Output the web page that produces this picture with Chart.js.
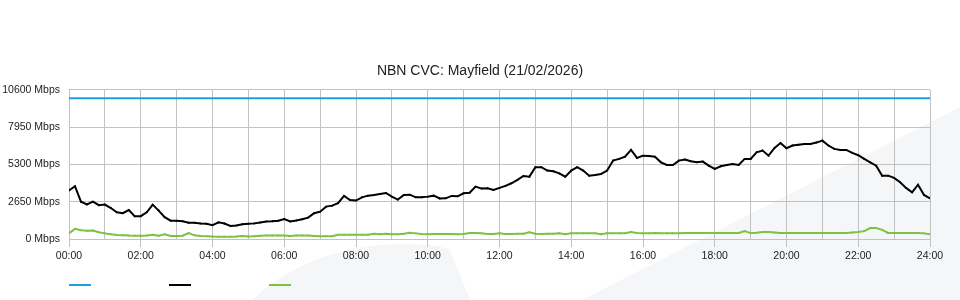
<!DOCTYPE html>
<html>
<head>
<meta charset="utf-8">
<title>NBN CVC: Mayfield</title>
<script src="https://cdn.jsdelivr.net/npm/chart.js@4.4.1/dist/chart.umd.min.js"></script>
<style>
  html, body { margin: 0; padding: 0; background: #fff; }
</style>
</head>
<body>
<canvas id="cvcGraph" width="960" height="300"></canvas>
<script>
// capacity of the CVC (flat line)
const capacityMbps = [10000, 10000];
const capacityMinutes = [0, 1440];

// 10 minute samples from 00:00 to 24:00
const downloadMbps = [
    3450, 3750, 2650, 2450, 2650, 2400, 2450, 2200, 1900, 1830, 2060, 1610,
    1620, 1900, 2440, 2020, 1550, 1300, 1300, 1260, 1150, 1150, 1100, 1080,
    980, 1180, 1100, 930, 960, 1050, 1080, 1110, 1180, 1250, 1260, 1300,
    1420, 1250, 1320, 1400, 1520, 1830, 1940, 2300, 2370, 2540, 3060, 2770,
    2730, 2960, 3080, 3130, 3200, 3270, 3010, 2800, 3130, 3150, 2960, 2960,
    3010, 3080, 2880, 2890, 3060, 3030, 3250, 3290, 3720, 3580, 3600, 3480,
    3630, 3770, 3960, 4200, 4480, 4430, 5100, 5100, 4860, 4810, 4660, 4430,
    4860, 5100, 4860, 4500, 4550, 4620, 4860, 5570, 5690, 5850, 6330, 5760,
    5920, 5900, 5850, 5450, 5260, 5260, 5570, 5650, 5520, 5450, 5500, 5210,
    4980, 5170, 5260, 5330, 5260, 5690, 5690, 6160, 6280, 5920, 6470, 6820,
    6450, 6640, 6700, 6750, 6750, 6850, 6990, 6640, 6400, 6330, 6330, 6120,
    5950, 5690, 5450, 5210, 4500, 4500, 4340, 4030, 3630, 3320, 3860, 3130,
    2890
];
const uploadMbps = [
    400, 720, 620, 580, 600, 480, 400, 330, 280, 260, 240, 230,
    230, 250, 300, 230, 330, 220, 210, 230, 420, 260, 220, 200,
    170, 160, 160, 160, 170, 210, 170, 200, 230, 240, 240, 240,
    250, 220, 240, 240, 240, 220, 190, 190, 200, 300, 310, 310,
    300, 310, 300, 380, 330, 380, 330, 330, 380, 440, 400, 350,
    340, 350, 350, 350, 350, 340, 360, 420, 420, 410, 360, 360,
    410, 350, 360, 370, 380, 480, 380, 350, 370, 380, 400, 330,
    400, 400, 400, 400, 400, 340, 400, 400, 400, 410, 500, 420,
    400, 400, 430, 400, 400, 400, 400, 420, 420, 420, 420, 420,
    420, 420, 420, 420, 430, 560, 420, 440, 490, 490, 470, 430,
    420, 420, 420, 420, 430, 420, 420, 420, 420, 420, 420, 470,
    500, 560, 780, 780, 650, 430, 430, 420, 420, 420, 430, 400,
    330
];

const sampleMinutes = downloadMbps.map((_, i) => i * 10);
const yTicks = [0, 2650, 5300, 7950, 10600];

const gridGrey = '#c2c2c2';

function hhmm(mins) {
    const h = Math.floor(mins / 60);
    return String(h).padStart(2, '0') + ':00';
}

// light grey swoosh behind the chart
const backdrop = {
    id: 'backdrop',
    beforeDraw(chart) {
        const ctx = chart.ctx;
        ctx.save();
        ctx.fillStyle = '#fff';
        ctx.fillRect(0, 0, chart.width, chart.height);
        ctx.fillStyle = '#f5f6f8';
        ctx.beginPath();
        ctx.moveTo(252, 300);
        ctx.quadraticCurveTo(310, 246, 400, 244);
        ctx.quadraticCurveTo(440, 244, 450, 250);
        ctx.lineTo(470, 300);
        ctx.closePath();
        ctx.fill();
        ctx.beginPath();
        ctx.moveTo(582, 300);
        ctx.lineTo(960, 107);
        ctx.lineTo(960, 300);
        ctx.closePath();
        ctx.fill();
        ctx.restore();
    }
};

// legend is just the coloured strokes, no text
const legendLines = {
    id: 'legendLines',
    afterDraw(chart) {
        const ctx = chart.ctx;
        const left = chart.chartArea.left;
        chart.data.datasets.forEach((ds, i) => {
            ctx.save();
            ctx.strokeStyle = ds.borderColor;
            ctx.lineWidth = 2;
            ctx.beginPath();
            ctx.moveTo(left + i * 100, 285);
            ctx.lineTo(left + i * 100 + 22, 285);
            ctx.stroke();
            ctx.restore();
        });
    }
};

Chart.defaults.font.family = '"Liberation Sans", Arial, sans-serif';
Chart.defaults.color = '#222';

const ctx = document.getElementById('cvcGraph').getContext('2d');
new Chart(ctx, {
    type: 'line',
    data: {
        datasets: [
            {
                label: 'Capacity',
                borderColor: '#1ba1e2',
                borderWidth: 2,
                pointRadius: 0,
                data: capacityMinutes.map((m, i) => ({ x: m, y: capacityMbps[i] }))
            },
            {
                label: 'Download',
                borderColor: '#000000',
                backgroundColor: '#000000',
                borderWidth: 2,
                pointRadius: 1,
                pointBorderWidth: 0,
                data: sampleMinutes.map((m, i) => ({ x: m, y: downloadMbps[i] }))
            },
            {
                label: 'Upload',
                borderColor: '#7cc243',
                backgroundColor: '#7cc243',
                borderWidth: 2,
                pointRadius: 1,
                pointBorderWidth: 0,
                data: sampleMinutes.map((m, i) => ({ x: m, y: uploadMbps[i] }))
            }
        ]
    },
    options: {
        responsive: false,
        animation: false,
        layout: { padding: { left: 0, right: 0, top: 0, bottom: 37 } },
        plugins: {
            legend: { display: false },
            tooltip: { enabled: false },
            title: {
                display: true,
                text: 'NBN CVC: Mayfield (21/02/2026)',
                color: '#222',
                font: { size: 14, weight: 'normal' },
                padding: { top: 63, bottom: 10 }
            }
        },
        scales: {
            x: {
                type: 'linear',
                min: 0,
                max: 1440,
                afterFit: scale => { scale.height = 24; },
                ticks: {
                    stepSize: 60,
                    autoSkip: false,
                    maxRotation: 0,
                    padding: 3,
                    font: { size: 10.5 },
                    callback: v => (v % 120 === 0 ? hhmm(v) : '')
                },
                grid: {
                    color: gridGrey,
                    tickLength: 8,
                    tickColor: c => (c.tick && c.tick.value % 120 === 0 ? gridGrey : 'rgba(0,0,0,0)')
                },
                border: { color: gridGrey }
            },
            y: {
                min: 0,
                max: 10600,
                afterFit: scale => { scale.width = 69; },
                afterBuildTicks: scale => { scale.ticks = yTicks.map(v => ({ value: v })); },
                ticks: {
                    padding: 9,
                    font: { size: 10.5 },
                    callback: v => v + ' Mbps'
                },
                grid: { color: gridGrey, drawTicks: false },
                border: { color: gridGrey }
            },
            // empty right axis, only keeps a 30px gutter so the title stays centred on the page
            yGutter: {
                position: 'right',
                min: 0,
                max: 10600,
                afterFit: scale => { scale.width = 30; },
                ticks: { display: false },
                grid: { display: false, drawTicks: false },
                border: { display: false }
            }
        }
    },
    plugins: [backdrop, legendLines]
});
</script>
</body>
</html>
